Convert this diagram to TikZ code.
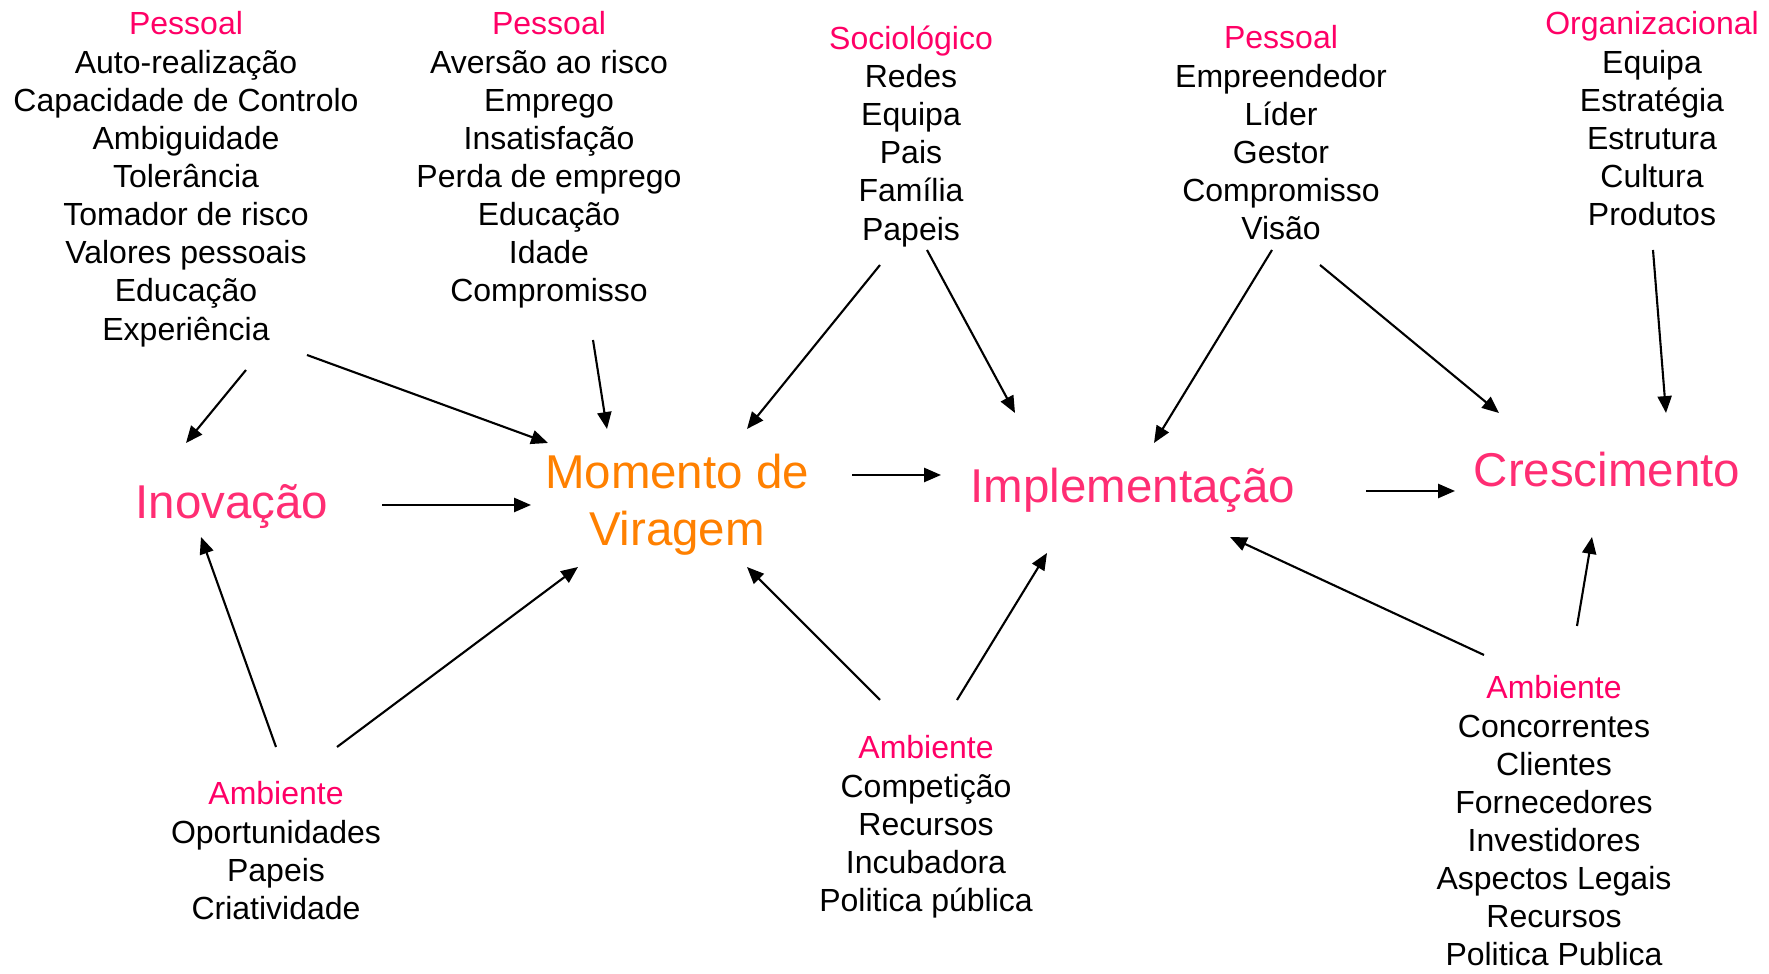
\documentclass[tikz,border=0pt]{standalone}
\usepackage{fontspec}
\setmainfont{Liberation Sans}
\usetikzlibrary{arrows.meta}
\usetikzlibrary{calc}
\definecolor{rosa}{RGB}{255,0,102}
\definecolor{rosaforte}{RGB}{255,45,115}
\definecolor{laranja}{RGB}{255,128,0}
\tikzset{
	lista/.style={anchor=north, align=center, inner sep=0pt, font=\fontsize{9.1}{10.85}\selectfont},
	etapa/.style={anchor=base, inner sep=0pt, text=rosaforte, font=\fontsize{13.5}{16.4}\selectfont},
	seta/.style={-{Triangle[length=4.8pt,width=4pt]}, line width=0.6pt}
}

\begin{document}
\begin{tikzpicture}[x=0.01cm, y=-0.01cm]

	\useasboundingbox (0,0) rectangle (1769,974);

	% etapas
	\node[etapa] (inov) at (232,519) {Inovação};
	\node[etapa, anchor=north, align=center, text=laranja] (viragem) at (677,453) {Momento de\\Viragem};
	\node[etapa] (impl) at (1133,503) {Implementação};
	\node[etapa] (cresc) at (1607,487) {Crescimento};

	% factores
	\node[lista] (pessoal1) at (186,11) {\textcolor{rosa}{Pessoal}\\Auto-realização\\Capacidade de Controlo\\Ambiguidade\\Tolerância\\Tomador de risco\\Valores pessoais\\Educação\\Experiência};
	\node[lista] (pessoal2) at (549,11) {\textcolor{rosa}{Pessoal}\\Aversão ao risco\\Emprego\\Insatisfação\\Perda de emprego\\Educação\\Idade\\Compromisso};
	\node[lista] (socio) at (911,25) {\textcolor{rosa}{Sociológico}\\Redes\\Equipa\\Pais\\Família\\Papeis};
	\node[lista] (pessoal3) at (1281,25) {\textcolor{rosa}{Pessoal}\\Empreendedor\\Líder\\Gestor\\Compromisso\\Visão};
	\node[lista] (organiz) at (1652,11) {\textcolor{rosa}{Organizacional}\\Equipa\\Estratégia\\Estrutura\\Cultura\\Produtos};

	\node[lista] (amb1) at (276,781) {\textcolor{rosa}{Ambiente}\\Oportunidades\\Papeis\\Criatividade};
	\node[lista] (amb2) at (926,735) {\textcolor{rosa}{Ambiente}\\Competição\\Recursos\\Incubadora\\Politica pública};
	\node[lista] (amb3) at (1554,675) {\textcolor{rosa}{Ambiente}\\Concorrentes\\Clientes\\Fornecedores\\Investidores\\Aspectos Legais\\Recursos\\Politica Publica};

	% setas de cima
	\draw[seta] ($(pessoal1.north)+(60,359)$) -- ($(inov.base)+(-46,-76)$);
	\draw[seta] ($(pessoal1.north)+(121,344)$) -- ($(viragem.north)+(-129,-10)$);
	\draw[seta] ($(pessoal2.north)+(44,329)$) -- ($(viragem.north)+(-70,-24)$);
	\draw[seta] ($(socio.north)+(-31,240)$) -- ($(viragem.north)+(70,-24)$);
	\draw[seta] ($(socio.north)+(16,225)$) -- ($(impl.base)+(-118,-90)$);
	\draw[seta] ($(pessoal3.north)+(-9,225)$) -- ($(impl.base)+(21,-60)$);
	\draw[seta] ($(pessoal3.north)+(39,240)$) -- ($(cresc.base)+(-108,-74)$);
	\draw[seta] ($(organiz.north)+(1,239)$) -- ($(cresc.base)+(59,-74)$);

	% sequencia
	\draw[seta] ($(inov.base)+(150,-14)$) -- ($(viragem.north)+(-146,52)$);
	\draw[seta] ($(viragem.north)+(175,22)$) -- ($(impl.base)+(-192,-28)$);
	\draw[seta] ($(impl.base)+(233,-12)$) -- ($(cresc.base)+(-152,4)$);

	% setas de baixo
	\draw[seta] ($(amb1.north)+(0,-34)$) -- ($(inov.base)+(-31,18)$);
	\draw[seta] ($(amb1.north)+(61,-34)$) -- ($(viragem.north)+(-99,114)$);
	\draw[seta] ($(amb2.north)+(-46,-35)$) -- ($(viragem.north)+(70,114)$);
	\draw[seta] ($(amb2.north)+(31,-35)$) -- ($(impl.base)+(-86,50)$);
	\draw[seta] ($(amb3.north)+(-70,-20)$) -- ($(impl.base)+(97,34)$);
	\draw[seta] ($(amb3.north)+(23,-49)$) -- ($(cresc.base)+(-15,50)$);

\end{tikzpicture}
\end{document}
